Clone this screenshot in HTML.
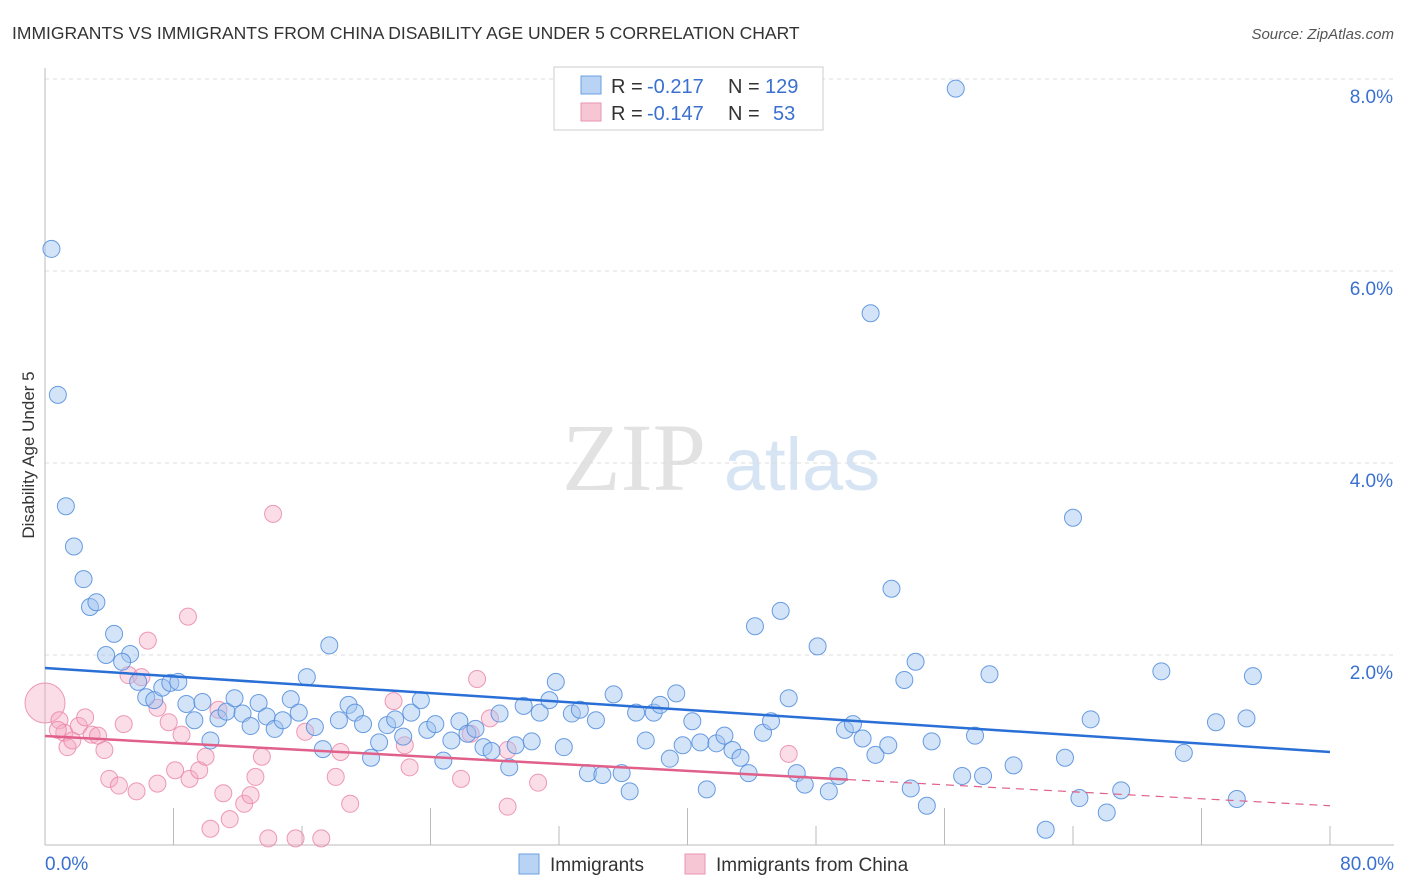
<!DOCTYPE html>
<html><head><meta charset="utf-8"><style>
body{margin:0;background:#fff;font-family:"Liberation Sans",sans-serif;}
#wrap{position:relative;width:1406px;height:892px;overflow:hidden;}
</style></head><body>
<div id="wrap">
<svg id="chart" width="1406" height="892" xmlns="http://www.w3.org/2000/svg">
<text x="12" y="39" font-size="17.5" fill="#333">IMMIGRANTS VS IMMIGRANTS FROM CHINA DISABILITY AGE UNDER 5 CORRELATION CHART</text>
<text x="1394" y="39" font-size="15" fill="#555" font-style="italic" text-anchor="end">Source: ZipAtlas.com</text>
<text x="634" y="490" font-size="96" fill="#e2e2e2" font-family="Liberation Serif,serif" text-anchor="middle">ZIP</text>
<text x="802" y="490" font-size="74" fill="#d6e4f4" text-anchor="middle">atlas</text>
<text x="34" y="455" font-size="17" fill="#333" text-anchor="middle" transform="rotate(-90 34 455)">Disability Age Under 5</text>
<g id="grid"></g><g id="marks"></g>
<g>
<rect x="554" y="67" width="269" height="63" fill="#fff" stroke="#ccc"/>
<rect x="581" y="76" width="20" height="18" fill="#b8d3f3" stroke="#6a9fe0"/>
<rect x="581" y="103" width="20" height="18" fill="#f7c6d5" stroke="#e996b1"/>
<text x="611" y="93" font-size="20" fill="#333">R =</text>
<text x="647" y="93" font-size="20" fill="#3a70d0">-0.217</text>
<text x="728" y="93" font-size="20" fill="#333">N =</text>
<text x="765" y="93" font-size="20" fill="#3a70d0">129</text>
<text x="611" y="120" font-size="20" fill="#333">R =</text>
<text x="647" y="120" font-size="20" fill="#3a70d0">-0.147</text>
<text x="728" y="120" font-size="20" fill="#333">N =</text>
<text x="773" y="120" font-size="20" fill="#3a70d0">53</text>
</g>
<g>
<rect x="519" y="854" width="20" height="20" fill="#b8d3f3" stroke="#6a9fe0"/>
<text x="550" y="871" font-size="19" fill="#333">Immigrants</text>
<rect x="685" y="854" width="20" height="20" fill="#f7c6d5" stroke="#e996b1"/>
<text x="716" y="871" font-size="19" fill="#333">Immigrants from China</text>
</g>
</svg>
</div>
<script>
const yTicks=[2,4,6,8];
const yTickLabels=["2.0%","4.0%","6.0%","8.0%"];
const xTickLabels=["0.0%","80.0%"];
const blueX=[0.4,0.8,1.3,1.8,2.4,2.8,3.2,4.3,3.8,5.3,4.8,5.8,6.3,6.8,7.3,7.8,8.3,8.8,9.3,9.8,10.3,10.8,11.3,11.8,12.3,12.8,13.3,13.8,14.3,14.8,15.3,15.8,16.3,16.8,17.3,17.7,18.3,18.9,19.3,19.8,20.3,20.8,21.3,21.8,22.3,22.8,23.4,23.8,24.3,24.8,25.3,25.8,26.3,26.8,27.3,27.8,28.3,28.9,29.3,29.8,30.3,30.8,31.4,31.8,32.3,32.8,33.3,33.8,34.3,34.7,35.4,35.9,36.4,36.8,37.4,37.9,38.3,38.9,39.3,39.7,40.3,40.8,41.2,41.8,42.3,42.8,43.3,43.8,44.2,44.7,45.2,45.8,46.3,46.8,47.3,48.1,48.8,49.4,49.8,50.3,50.9,51.4,51.7,52.5,52.7,53.5,54.2,53.9,54.9,55.2,56.7,57.1,57.9,58.4,58.8,60.3,62.3,63.5,64.0,64.4,65.1,66.1,67.0,69.5,70.9,72.9,74.2,74.8,75.2];
const blueY=[6.23,4.71,3.55,3.13,2.79,2.5,2.55,2.22,2.0,2.01,1.93,1.72,1.56,1.53,1.66,1.71,1.72,1.49,1.32,1.51,1.11,1.34,1.41,1.55,1.39,1.26,1.5,1.36,1.23,1.32,1.54,1.4,1.77,1.25,1.02,2.1,1.32,1.48,1.4,1.28,0.93,1.09,1.27,1.33,1.15,1.4,1.53,1.22,1.28,0.9,1.11,1.31,1.18,1.23,1.04,1.0,1.39,0.83,1.06,1.47,1.1,1.4,1.53,1.72,1.04,1.39,1.43,0.77,1.32,0.75,1.59,0.77,0.58,1.4,1.11,1.4,1.48,0.92,1.6,1.06,1.31,1.09,0.6,1.08,1.16,1.01,0.93,0.77,2.3,1.19,1.31,2.46,1.55,0.77,0.65,2.09,0.58,0.74,1.22,1.28,1.13,5.56,0.96,1.06,2.69,1.74,1.93,0.61,0.43,1.1,7.9,0.74,1.16,0.74,1.8,0.85,0.18,0.93,3.43,0.51,1.33,0.36,0.59,1.83,0.98,1.3,0.5,1.34,1.78];
const pinkX=[0,0.9,1.2,0.8,1.4,1.7,2.1,2.5,2.9,3.3,3.7,4.0,4.6,4.9,5.7,5.2,6.0,6.4,7.0,7.0,7.7,8.1,8.5,8.9,9.0,9.6,10.0,10.3,10.8,11.1,11.5,12.4,12.8,13.1,13.5,13.9,14.2,15.6,16.2,17.2,18.1,18.4,19.0,21.7,22.4,22.7,25.9,26.5,26.9,27.7,28.8,28.8,30.7,46.3];
const pinkY=[1.5,1.32,1.19,1.22,1.04,1.11,1.26,1.35,1.17,1.16,1.01,0.71,0.64,1.28,0.58,1.79,1.77,2.15,0.66,1.45,1.3,0.8,1.17,2.4,0.71,0.8,0.94,0.19,1.43,0.56,0.29,0.45,0.54,0.73,0.94,0.09,3.47,0.09,1.2,0.09,0.73,0.99,0.45,1.52,1.06,0.83,0.71,1.18,1.75,1.34,1.01,0.42,0.67,0.97];
const blueTrend=[1.865,0.99];
const pinkTrend=[1.156,0.43];
const pinkSolidEnd=50;

const X0=45,X1=1330,Y0=847,PXY=96;
const sx=v=>X0+(v/80)*(X1-X0);
const sy=v=>Y0-v*PXY;
const NS="http://www.w3.org/2000/svg";
function mk(tag,attrs,parent){const e=document.createElementNS(NS,tag);for(const k in attrs)e.setAttribute(k,attrs[k]);parent.appendChild(e);return e;}
const grid=document.getElementById('grid'),marks=document.getElementById('marks');
yTicks.forEach((t,i)=>{
  const l=mk('line',{x1:X0,x2:1394,y1:sy(t),y2:sy(t),stroke:'#dcdcdc','stroke-dasharray':'4,4'},grid);
  
  
  const tx=mk('text',{x:1393,y:sy(t)+24,'font-size':19,fill:'#3a70d0','text-anchor':'end'},grid);
  tx.textContent=yTickLabels[i];
  
  
});
const ax=mk('line',{x1:X0,x2:X0,y1:68,y2:845,stroke:'#bbb'},grid);


const bx=mk('line',{x1:X0,x2:1394,y1:845,y2:845,stroke:'#bbb'},grid);


for(let i=1;i<=10;i++){
  const t=mk('line',{x1:sx(i*8),x2:sx(i*8),y1:i%2?808:826,y2:845,stroke:'#bbb'},grid);
  
  
}
const xl0=mk('text',{x:45,y:870,'font-size':19,fill:'#3a70d0'},grid);xl0.textContent=xTickLabels[0];


const xl1=mk('text',{x:1394,y:870,'font-size':19,fill:'#3a70d0','text-anchor':'end'},grid);xl1.textContent=xTickLabels[1];


pinkX.forEach((x,i)=>{
  const c=mk('circle',{cx:sx(x),cy:sy(pinkY[i]),r:i===0?20:8.5,fill:'rgba(245,170,195,0.4)',stroke:'rgba(232,130,165,0.8)','stroke-width':1},marks);
  
  
});
blueX.forEach((x,i)=>{
  const c=mk('circle',{cx:sx(x),cy:sy(blueY[i]),r:8.5,fill:'rgba(160,195,240,0.45)',stroke:'rgba(80,140,220,0.85)','stroke-width':1},marks);
  
  
});
const pAt=x=>pinkTrend[0]+(pinkTrend[1]-pinkTrend[0])*x/80;
const bl=mk('line',{x1:sx(0),y1:sy(blueTrend[0]),x2:sx(80),y2:sy(blueTrend[1]),stroke:'#2a6fd6','stroke-width':2.5},marks);


const pl=mk('line',{x1:sx(0),y1:sy(pAt(0)),x2:sx(pinkSolidEnd),y2:sy(pAt(pinkSolidEnd)),stroke:'#e0608a','stroke-width':2.5},marks);


const pd=mk('line',{x1:sx(pinkSolidEnd),y1:sy(pAt(pinkSolidEnd)),x2:sx(80),y2:sy(pAt(80)),stroke:'#e0608a','stroke-width':1.2,'stroke-dasharray':'8,6'},marks);


</script>
</body></html>
